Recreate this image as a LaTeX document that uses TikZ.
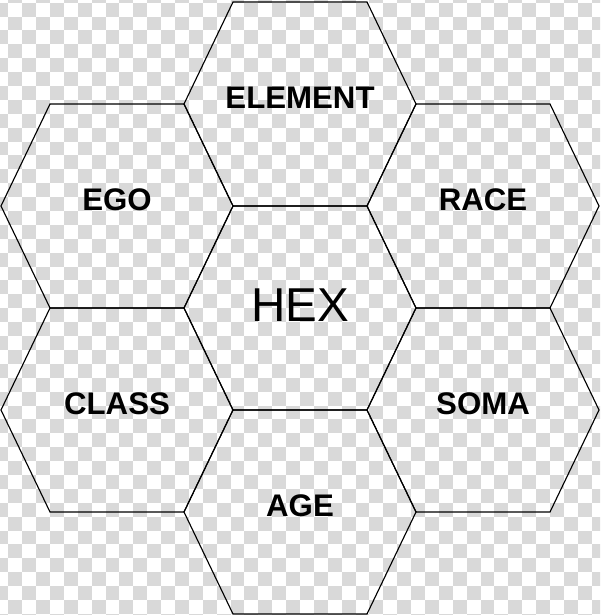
\documentclass[tikz,border=0pt]{standalone}
\usepackage{fontspec}
\setmainfont{Liberation Sans}
\usetikzlibrary{positioning}
\definecolor{checkgray}{HTML}{D9D9D9}
\tikzstyle{cell} = [draw=black, line width=0.8pt, line join=miter]
\tikzstyle{hexlabel} = [font=\fontsize{22.2}{25}\selectfont\bfseries, text=black, inner sep=0pt]
\tikzstyle{hexmain} = [font=\fontsize{33.8}{38}\selectfont, text=black, inner sep=0pt]

\begin{document}
\begin{tikzpicture}[x=0.025cm, y=-0.025cm]

\useasboundingbox (0,0) rectangle (600,615);

% transparency checkerboard
\begin{scope}
\clip (0,0) rectangle (600,615);
\fill [white] (0,0) rectangle (600,615);
\foreach \i in {0,2,...,44} {
  \foreach \j in {0,2,...,46} {
    \fill [checkgray] (-5.6+\i*13.89+13.89, -11.2+\j*13.89) rectangle +(13.89,13.89);
    \fill [checkgray] (-5.6+\i*13.89, -11.2+\j*13.89+13.89) rectangle +(13.89,13.89);
  }
}
\end{scope}

% cells
\foreach \cx/\cy in {300/104, 117/206, 483/206, 300/308, 117/410, 483/410, 300/512}
  \draw [cell, shift={(\cx,\cy)}] (-116,0) -- (-67,-102) -- (67,-102) -- (116,0) -- (67,102) -- (-67,102) -- cycle;

\node (element) [hexlabel] at (300,97.5) {ELEMENT};
\node (ego) [hexlabel] at (117,199.7) {EGO};
\node (race) [hexlabel] at (483,199.7) {RACE};
\node (hex) [hexmain] at (300,305.5) {HEX};
\node (class) [hexlabel] at (117,403.7) {CLASS};
\node (soma) [hexlabel] at (483,403.7) {SOMA};
\node (age) [hexlabel] at (300,505.7) {AGE};

\end{tikzpicture}
\end{document}
